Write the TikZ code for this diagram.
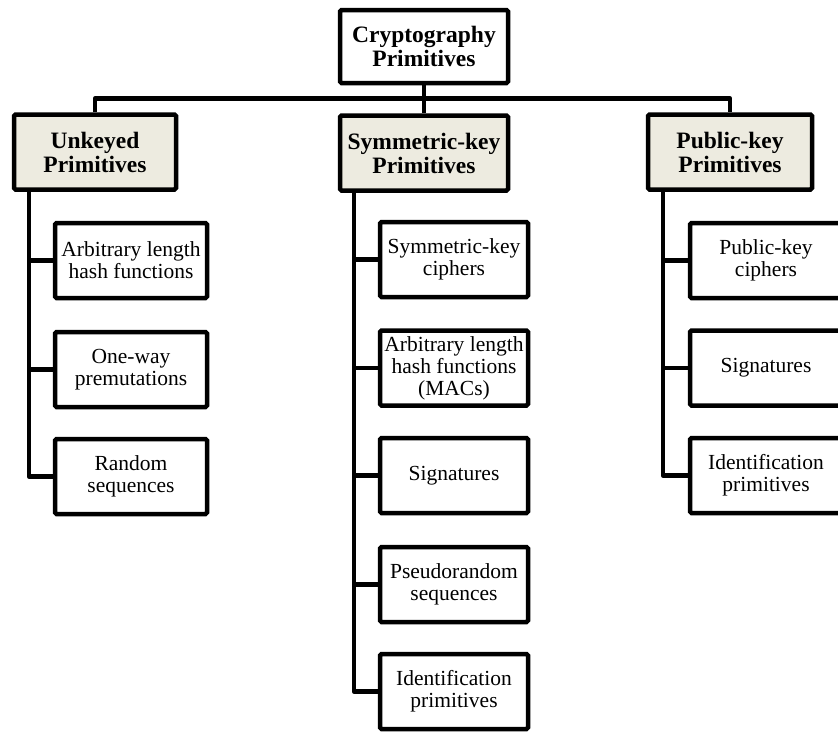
\documentclass[tikz,border=0pt]{standalone}
\usepackage{fontspec}
\setmainfont{Liberation Serif}
\definecolor{beige}{RGB}{237,235,224}
\begin{document}
\begin{tikzpicture}[x=1pt,y=-1pt,
  box/.style={draw=black,line width=4.5pt,rounded corners=1.5pt,align=center,inner sep=0pt,
    minimum height=75pt,font=\fontsize{21.5}{22}\selectfont},
  headbox/.style={box,font=\fontsize{23.5}{24}\selectfont\bfseries},
  catbox/.style={headbox,fill=beige},
  conn/.style={line width=4.5pt,line join=round}]
\useasboundingbox (0,0) rectangle (838,731);
% top
\node[headbox,minimum width=168pt,minimum height=73pt] (top) at (424,46.5) {Cryptography\\Primitives};
% categories
\node[catbox,minimum width=162pt] (L) at (95,152) {Unkeyed\\Primitives};
\node[catbox,minimum width=168pt] (M) at (424,153) {Symmetric-key\\Primitives};
\node[catbox,minimum width=164pt] (R) at (730,152) {Public-key\\Primitives};
% bus
\coordinate (bus) at (424,98.5);
\draw[conn] (L.north) |- (bus) -| (R.north);
\draw[conn] (top.south) -- (M.north);
% left children
\node[box,minimum width=152pt] (l1) at (131,260.5) {Arbitrary length\\hash functions};
\node[box,minimum width=152pt] (l2) at (131,369.5) {One-way\\premutations};
\node[box,minimum width=152pt] (l3) at (131,476.5) {Random\\sequences};
% middle children
\node[box,minimum width=148pt] (m1) at (454,259.5) {Symmetric-key\\ciphers};
\node[box,minimum width=148pt] (m2) at (454,368) {Arbitrary length\\hash functions\\(MACs)};
\node[box,minimum width=148pt] (m3) at (454,475.5) {Signatures};
\node[box,minimum width=148pt] (m4) at (454,584.5) {Pseudorandom\\sequences};
\node[box,minimum width=148pt] (m5) at (454,691.5) {Identification\\primitives};
% right children
\node[box,minimum width=152pt] (r1) at (766,260.5) {Public-key\\ciphers};
\node[box,minimum width=152pt] (r2) at (766,368) {Signatures};
\node[box,minimum width=152pt] (r3) at (766,475.5) {Identification\\primitives};
% trunks
\foreach \c in {l1,l2,l3} \draw[conn] ([xshift=17pt]L.south west) |- (\c.west);
\foreach \c in {m1,m2,m3,m4,m5} \draw[conn] ([xshift=16pt]M.south west) |- (\c.west);
\foreach \c in {r1,r2,r3} \draw[conn] ([xshift=17pt]R.south west) |- (\c.west);
\end{tikzpicture}
\end{document}
